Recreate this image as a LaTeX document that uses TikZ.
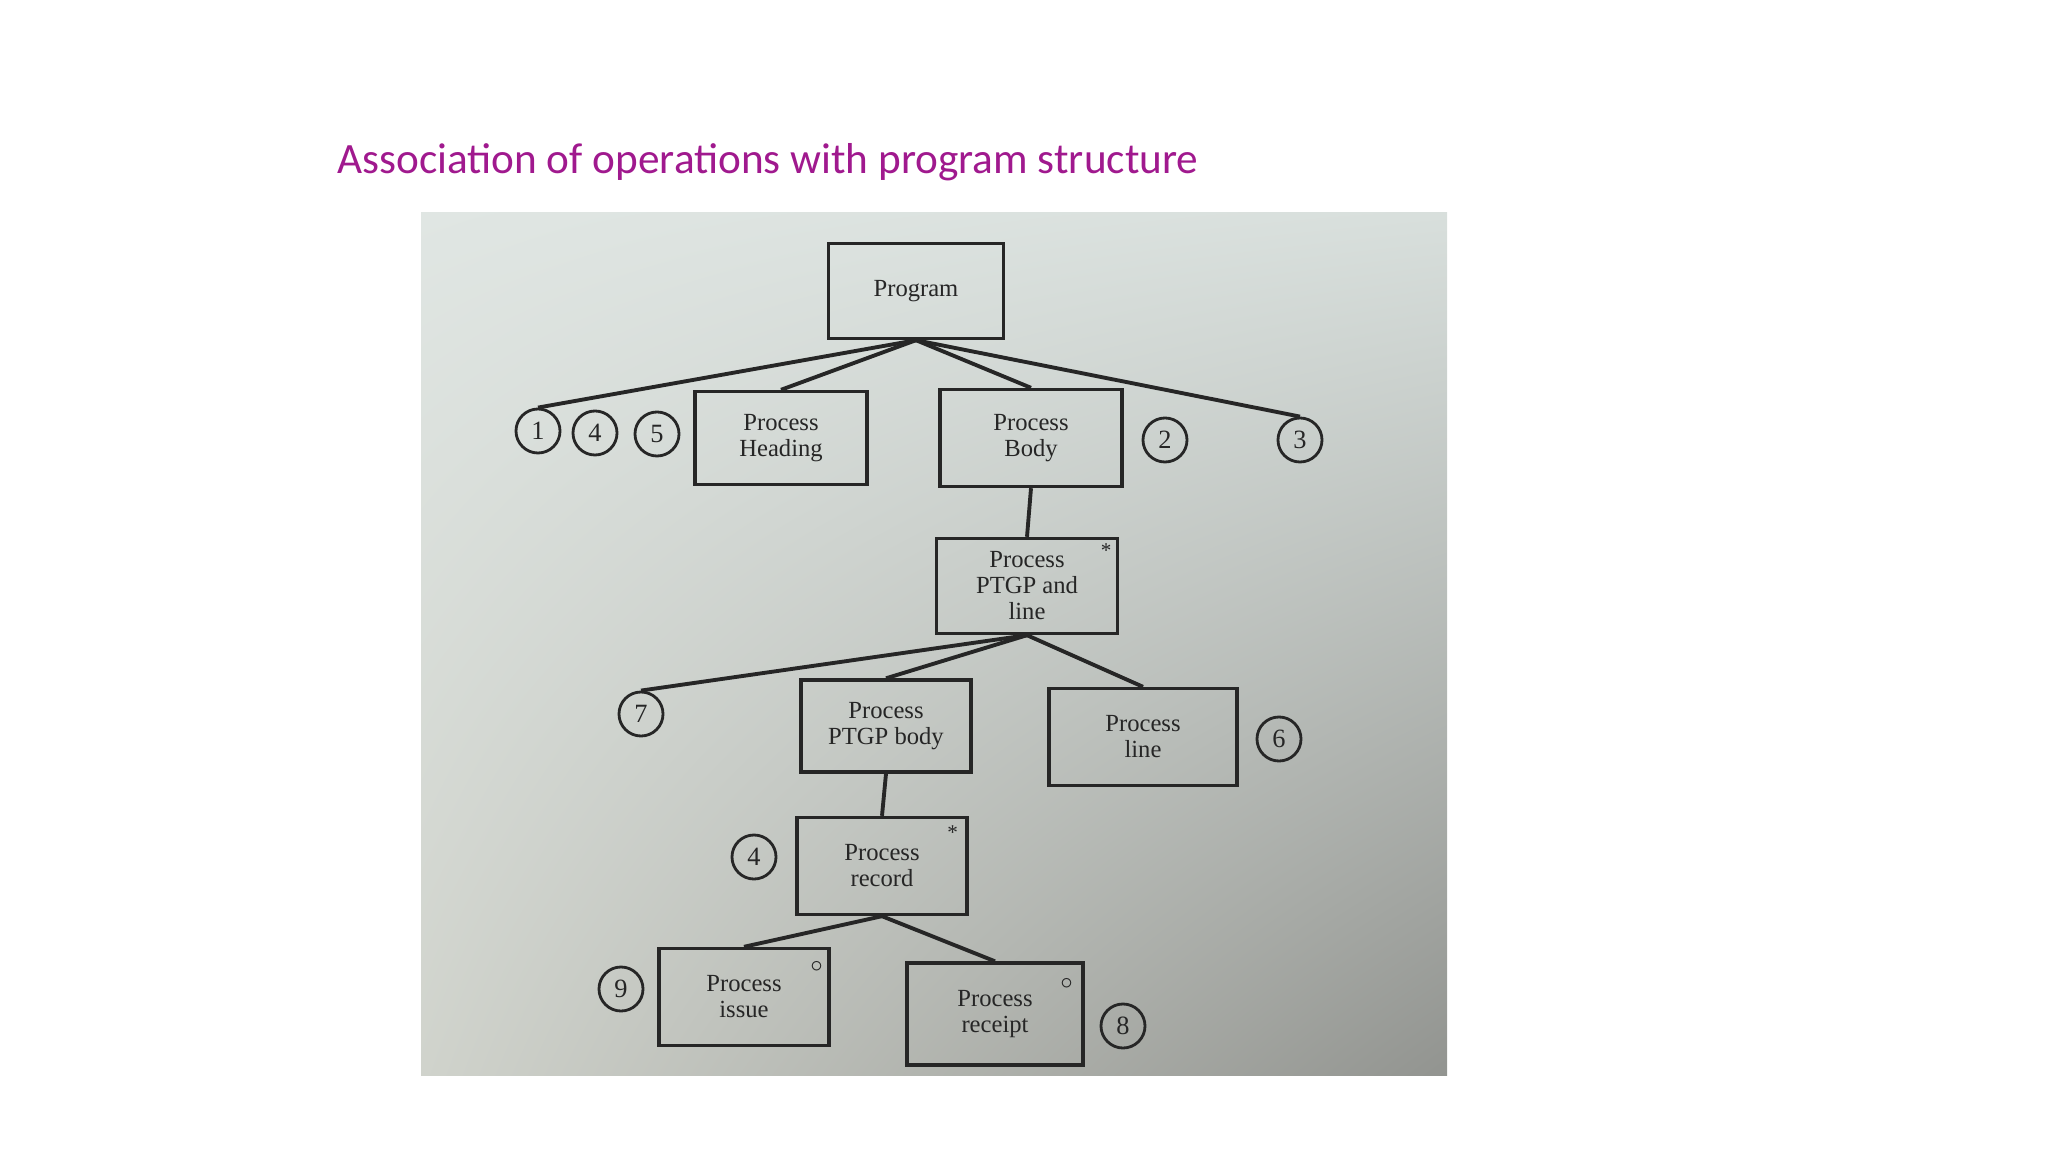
\documentclass[tikz,border=0pt]{standalone}
\usepackage{fontspec}
\setmainfont{Liberation Serif}
\newfontfamily\titlefont{Carlito}
\usetikzlibrary{shadings}
\definecolor{titlepurple}{HTML}{A0198E}
\definecolor{inkgrey}{HTML}{262626}
\definecolor{paperA}{HTML}{E0E6E3}
\definecolor{paperB}{HTML}{D8DFDC}
\definecolor{paperC}{HTML}{D0D3CC}
\definecolor{paperD}{HTML}{929490}

\begin{document}
\begin{tikzpicture}[x=0.01cm, y=-0.01cm,
		opbox/.style={draw=inkgrey, line width=0.95pt, align=center, inner sep=0pt,
			text=inkgrey, font=\fontsize{7}{7.4}\selectfont},
		opnum/.style={circle, draw=inkgrey, line width=0.8pt, minimum size=0.44cm,
			inner sep=0pt, text=inkgrey, font=\fontsize{7.5}{8}\selectfont},
		seqmark/.style={inner sep=0pt, text=inkgrey, font=\fontsize{6}{6}\selectfont},
		link/.style={draw=inkgrey, line width=1.1pt}]
	\useasboundingbox (0,0) rectangle (2048,1152);

	\node[anchor=base west, text=titlepurple, font=\titlefont\fontsize{12.3}{14}\selectfont] (title) at (325,174) {Association of operations with program structure};

	% the photographed page
	\shade[upper left=paperA, upper right=paperB, lower left=paperC, lower right=paperD] (421,213) rectangle (1447,1075);

	\begin{scope}
		\node[opbox, minimum width=1.75cm, minimum height=0.95cm] (prog) at (916,291) {Program};

		\node[opbox, minimum width=1.72cm, minimum height=0.93cm] (head) at (781,438) {Process\\Heading};
		\node[opbox, minimum width=1.82cm, minimum height=0.97cm] (body) at (1031,438) {Process\\Body};
		\node[opnum] (c1) at (538,431) {1};
		\node[opnum] (c4) at (595,433) {4};
		\node[opnum] (c5) at (657,434) {5};
		\node[opnum] (c2) at (1165,440) {2};
		\node[opnum] (c3) at (1300,440) {3};

		\node[opbox, minimum width=1.81cm, minimum height=0.95cm] (ptgpline) at (1027,586) {Process\\PTGP and\\line};
		\node[seqmark] (ptgplinemark) at ([xshift=-0.13cm, yshift=-0.14cm]ptgpline.north east) {*};

		\node[opbox, minimum width=1.70cm, minimum height=0.92cm] (ptgpbody) at (886,726) {Process\\PTGP body};
		\node[opbox, minimum width=1.88cm, minimum height=0.97cm] (pline) at (1143,737) {Process\\line};
		\node[opnum] (c7) at (641,714) {7};
		\node[opnum] (c6) at (1279,739) {6};

		\node[opbox, minimum width=1.70cm, minimum height=0.97cm] (record) at (882,866) {Process\\record};
		\node[seqmark] (recordmark) at ([xshift=-0.16cm, yshift=-0.17cm]record.north east) {*};
		\node[opnum] (c4b) at (754,857) {4};

		\node[opbox, minimum width=1.70cm, minimum height=0.97cm] (issue) at (744,997) {Process\\issue};
		\node[seqmark] (issuemark) at ([xshift=-0.14cm, yshift=-0.2cm]issue.north east) {$\circ$};
		\node[opbox, minimum width=1.76cm, minimum height=1.02cm] (receipt) at (995,1014) {Process\\receipt};
		\node[seqmark] (receiptmark) at ([xshift=-0.18cm, yshift=-0.22cm]receipt.north east) {$\circ$};
		\node[opnum] (c9) at (621,989) {9};
		\node[opnum] (c8) at (1123,1026) {8};

		\draw[link] (prog.south) -- (c1.north); % to the first operations
		\draw[link] (prog.south) -- (head.north);
		\draw[link] (prog.south) -- (body.north);
		\draw[link] (prog.south) -- (c3.north); % to the last operation

		\draw[link] (body.south) -- (ptgpline.north);

		\draw[link] (ptgpline.south) -- (c7.north);
		\draw[link] (ptgpline.south) -- (ptgpbody.north);
		\draw[link] (ptgpline.south) -- (pline.north);

		\draw[link] (ptgpbody.south) -- (record.north);

		\draw[link] (record.south) -- (issue.north);
		\draw[link] (record.south) -- (receipt.north);
	\end{scope}
\end{tikzpicture}
\end{document}
